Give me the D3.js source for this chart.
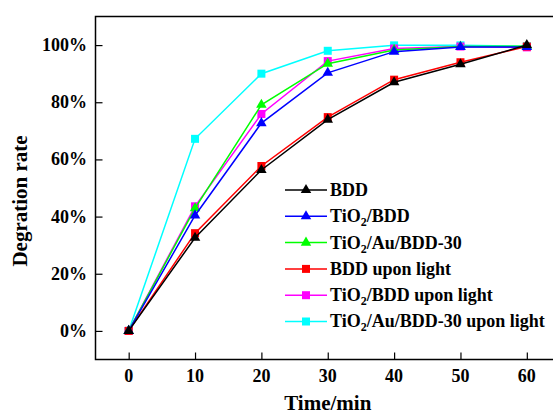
<!DOCTYPE html>
<html>
<head>
<meta charset="utf-8">
<script src="https://cdn.jsdelivr.net/npm/d3@7"></script>
<style>
  body { margin: 0; background: #fff; }
  svg text { font-family: "Liberation Serif", "Times New Roman", "DejaVu Serif", serif; font-weight: bold; }
</style>
</head>
<body>
<script>
const w = 553;
const h = 419;
const margin = { top: 16.5, right: -7, bottom: 59.5, left: 95.5 };

// data
const times = [0, 10, 20, 30, 40, 50, 60];
const bdd = [0, 32.6, 56.3, 73.9, 87.0, 93.3, 100];
const tio2Bdd = [0, 40.4, 72.7, 90.3, 97.7, 99.3, 99.3];
const tio2AuBdd = [0, 42.9, 79.1, 93.5, 98.3, 99.5, 99.6];
const bddLight = [0, 34.2, 57.7, 74.8, 87.9, 94.0, 99.5];
const tio2BddLight = [0, 43.6, 75.9, 94.4, 98.8, 99.5, 99.2];
const tio2AuBddLight = [0, 67.2, 90.0, 98.0, 99.9, 99.9, 99.6];
const xTicks = [0, 10, 20, 30, 40, 50, 60];
const yTicks = [0, 20, 40, 60, 80, 100];

const series = [
  { name: ['BDD'], values: bdd, color: '#000000', marker: 'tri' },
  { name: ['TiO', '2', '/BDD'], values: tio2Bdd, color: '#0000ff', marker: 'tri' },
  { name: ['TiO', '2', '/Au/BDD-30'], values: tio2AuBdd, color: '#00ff00', marker: 'tri' },
  { name: ['BDD upon light'], values: bddLight, color: '#ff0000', marker: 'sq' },
  { name: ['TiO', '2', '/BDD upon light'], values: tio2BddLight, color: '#ff00ff', marker: 'sq' },
  { name: ['TiO', '2', '/Au/BDD-30 upon light'], values: tio2AuBddLight, color: '#00ffff', marker: 'sq' }
];

const svg = d3.select('body').append('svg')
  .attr('width', w)
  .attr('height', h)
  .attr('font-family', '"Liberation Serif", "Times New Roman", "DejaVu Serif", serif')
  .attr('font-weight', 'bold');

const x = d3.scaleLinear().domain([-5, 65]).range([margin.left, w - margin.right]);
const y = d3.scaleLinear().domain([-10, 110]).range([h - margin.bottom, margin.top]);

const triPath = d3.symbol().type(d3.symbolTriangle).size(48);
const sqPath = d3.symbol().type(d3.symbolSquare).size(64);
const drawMarker = (g, s) => g.append('path')
  .attr('d', s.marker === 'tri' ? triPath() : sqPath())
  .attr('fill', s.color);

// frame
svg.append('rect')
  .attr('x', x(-5)).attr('y', y(110))
  .attr('width', x(65) - x(-5)).attr('height', y(-10) - y(110))
  .attr('fill', 'none').attr('stroke', '#000').attr('stroke-width', 1.5);

// x axis with inward ticks
const xAxis = svg.append('g').attr('transform', `translate(0,${y(-10)})`);
xAxis.call(d3.axisTop(x).tickValues(d3.range(-5, 65, 5)).tickSize(4).tickFormat(''));
xAxis.call(d3.axisTop(x).tickValues(xTicks).tickSize(7).tickFormat(''));
xAxis.selectAll('.domain').remove();
xAxis.selectAll('line').attr('stroke-width', 1.2);
svg.append('g').selectAll('text')
  .data(xTicks).enter().append('text')
  .attr('x', (d) => x(d))
  .attr('y', 381.5)
  .attr('text-anchor', 'middle')
  .style('font-size', '18px')
  .text((d) => d);

// y axis with inward ticks
const yAxis = svg.append('g').attr('transform', `translate(${x(-5)},0)`);
yAxis.call(d3.axisRight(y).tickValues(d3.range(-10, 110, 10)).tickSize(4).tickFormat(''));
yAxis.call(d3.axisRight(y).tickValues(yTicks).tickSize(7).tickFormat(''));
yAxis.selectAll('.domain').remove();
yAxis.selectAll('line').attr('stroke-width', 1.2);
svg.append('g').selectAll('text')
  .data(yTicks).enter().append('text')
  .attr('x', 87)
  .attr('y', (d) => y(d))
  .attr('dy', '0.33em')
  .attr('text-anchor', 'end')
  .style('font-size', '18px')
  .text((d) => d + '%');

// axis titles
svg.append('text')
  .attr('x', (x(-5) + x(65)) / 2)
  .attr('y', 410)
  .attr('text-anchor', 'middle')
  .style('font-size', '21px')
  .text('Time/min');
svg.append('text')
  .attr('transform', 'translate(27,201) rotate(-90)')
  .attr('text-anchor', 'middle')
  .style('font-size', '21px')
  .text('Degration rate');

// lines and markers, BDD drawn last so it sits on top
const line = d3.line().x((d, i) => x(times[i])).y((d) => y(d));
const plot = svg.append('g');
series.slice().reverse().forEach((s) => {
  const g = plot.append('g');
  g.append('path')
    .attr('d', line(s.values))
    .attr('fill', 'none')
    .attr('stroke', s.color)
    .attr('stroke-width', 1.5);
  s.values.forEach((v, i) => {
    const m = g.append('g').attr('transform', `translate(${x(times[i])},${y(v)})`);
    drawMarker(m, s);
  });
});

// legend
const legend = svg.append('g');
series.forEach((s, i) => {
  const ly = 190 + i * 26.3;
  const row = legend.append('g').attr('transform', `translate(0,${ly})`);
  row.append('line')
    .attr('x1', 285).attr('x2', 327)
    .attr('stroke', s.color).attr('stroke-width', 1.5);
  const m = row.append('g').attr('transform', 'translate(306,0)');
  drawMarker(m, s);
  const t = row.append('text')
    .attr('x', 330)
    .attr('dy', '0.33em')
    .style('font-size', '18px');
  s.name.forEach((part, k) => {
    const sp = t.append('tspan').text(part);
    if (s.name.length > 1 && k === 1) {
      sp.style('font-size', '12px').attr('dy', '4');
    } else if (k === 2) {
      sp.attr('dy', '-4');
    }
  });
});
</script>
</body>
</html>
